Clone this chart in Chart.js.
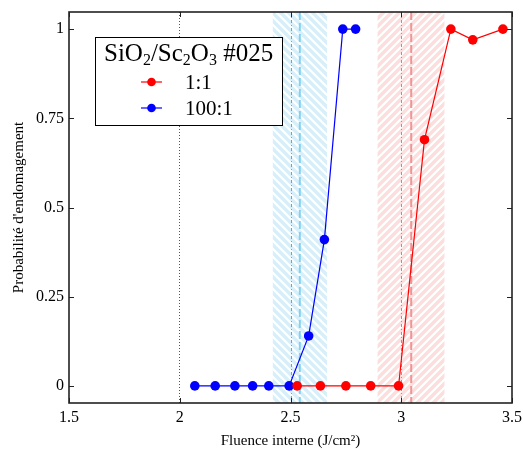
<!DOCTYPE html>
<html>
<head>
<meta charset="utf-8">
<script src="https://cdn.jsdelivr.net/npm/chart.js@4.4.1/dist/chart.umd.min.js"></script>
<style>
  html, body { margin: 0; padding: 0; background: #fff; }
  #wrap { width: 523px; height: 450px; }
</style>
</head>
<body>
<div id="wrap"><canvas id="c"></canvas></div>
<script>
// tick labels
const xTicks = [1.5, 2, 2.5, 3, 3.5];
const yTicks = [0, 0.25, 0.5, 0.75, 1];

// series 1:1 (red)
const fluence11 = [2.53, 2.635, 2.75, 2.862, 2.988, 3.105, 3.224, 3.323, 3.459];
const prob11 = [0, 0, 0, 0, 0, 0.69, 1, 0.97, 1];
// series 100:1 (blue)
const fluence100 = [2.068, 2.16, 2.249, 2.329, 2.402, 2.494, 2.582, 2.653, 2.736, 2.794];
const prob100 = [0, 0, 0, 0, 0, 0, 0.14, 0.41, 1, 1];

// threshold bands (min, max) and mean
const band11 = [2.893, 3.195];
const mean11 = 3.045;
const band100 = [2.42, 2.665];
const mean100 = 2.542;

const serif = '"Liberation Serif", "Times New Roman", serif';

function hatch(base, dir) {
  const p = document.createElement('canvas');
  p.width = 8; p.height = 8;
  const g = p.getContext('2d');
  g.fillStyle = base;
  g.fillRect(0, 0, 8, 8);
  g.strokeStyle = '#fff';
  g.lineWidth = 2.2;
  g.beginPath();
  if (dir > 0) {
    g.moveTo(-2, 10); g.lineTo(10, -2);
    g.moveTo(-2, 2); g.lineTo(2, -2);
    g.moveTo(6, 10); g.lineTo(10, 6);
  } else {
    g.moveTo(-2, -2); g.lineTo(10, 10);
    g.moveTo(-2, 6); g.lineTo(2, 10);
    g.moveTo(6, -2); g.lineTo(10, 2);
  }
  g.stroke();
  return g.createPattern(p, 'repeat');
}

const bandsPlugin = {
  id: 'bands',
  beforeDatasetsDraw(chart) {
    const ctx = chart.ctx, a = chart.chartArea, xs = chart.scales.x;
    const bands = [
      [band100, mean100, hatch('#d8effa', -1), '#80d2f2'],
      [band11, mean11, hatch('#fddede', 1), '#f09494']
    ];
    ctx.save();
    bands.forEach(b => {
      const x0 = xs.getPixelForValue(b[0][0]);
      const x1 = xs.getPixelForValue(b[0][1]);
      ctx.fillStyle = b[2];
      ctx.fillRect(x0, a.top, x1 - x0, a.bottom - a.top);
      const xm = xs.getPixelForValue(b[1]);
      ctx.strokeStyle = b[3];
      ctx.lineWidth = 2;
      ctx.setLineDash([8, 3]);
      ctx.beginPath();
      ctx.moveTo(xm, a.top); ctx.lineTo(xm, a.bottom);
      ctx.stroke();
    });
    // grid lines at 2.5 and 3 drawn over the bands
    ctx.setLineDash([3, 2, 1, 2]);
    ctx.strokeStyle = '#999';
    ctx.lineWidth = 1;
    [2.5, 3].forEach(v => {
      const x = Math.round(xs.getPixelForValue(v)) + 0.5;
      ctx.beginPath();
      ctx.moveTo(x, a.top); ctx.lineTo(x, a.bottom);
      ctx.stroke();
    });
    ctx.restore();
  }
};

const framePlugin = {
  id: 'frame',
  afterDatasetsDraw(chart) {
    const ctx = chart.ctx, a = chart.chartArea, xs = chart.scales.x, ys = chart.scales.y;
    ctx.save();
    ctx.strokeStyle = '#222';
    ctx.lineWidth = 1;
    xTicks.forEach(v => {
      const x = Math.round(xs.getPixelForValue(v)) + 0.5;
      ctx.beginPath();
      ctx.moveTo(x, a.bottom); ctx.lineTo(x, a.bottom - 5);
      ctx.moveTo(x, a.top); ctx.lineTo(x, a.top + 5);
      ctx.stroke();
    });
    yTicks.forEach(v => {
      const y = Math.round(ys.getPixelForValue(v)) + 0.5;
      ctx.beginPath();
      ctx.moveTo(a.left, y); ctx.lineTo(a.left + 5, y);
      ctx.moveTo(a.right, y); ctx.lineTo(a.right - 5, y);
      ctx.stroke();
    });
    ctx.lineWidth = 1.6;
    ctx.strokeRect(a.left, a.top, a.right - a.left, a.bottom - a.top);
    ctx.restore();
  }
};

const legendPlugin = {
  id: 'boxLegend',
  afterDraw(chart) {
    const ctx = chart.ctx, a = chart.chartArea;
    const bx = a.left + 26, by = a.top + 25, bw = 187, bh = 88;
    ctx.save();
    ctx.fillStyle = '#fff';
    ctx.fillRect(bx, by, bw, bh);
    ctx.strokeStyle = '#000';
    ctx.lineWidth = 1;
    ctx.strokeRect(bx + 0.5, by + 0.5, bw, bh);

    // title with subscripts
    const parts = [['SiO', 0], ['2', 1], ['/Sc', 0], ['2', 1], ['O', 0], ['3', 1], [' #025', 0]];
    let tx = bx + 9;
    const base = by + 24;
    ctx.fillStyle = '#000';
    ctx.textBaseline = 'alphabetic';
    parts.forEach(p => {
      ctx.font = p[1] ? '16px ' + serif : '25px ' + serif;
      ctx.fillText(p[0], tx, base + (p[1] ? 4 : 0));
      tx += ctx.measureText(p[0]).width;
    });

    const entries = [['1:1', '#ff0000'], ['100:1', '#0000ff']];
    entries.forEach((e, i) => {
      const y = by + 45 + i * 26;
      ctx.strokeStyle = e[1];
      ctx.lineWidth = 1.2;
      ctx.beginPath();
      ctx.moveTo(bx + 46, y); ctx.lineTo(bx + 67, y);
      ctx.stroke();
      ctx.fillStyle = e[1];
      ctx.beginPath();
      ctx.arc(bx + 56.5, y, 4.3, 0, Math.PI * 2);
      ctx.fill();
      ctx.fillStyle = '#000';
      ctx.font = '21px ' + serif;
      ctx.fillText(e[0], bx + 90, y + 7);
    });
    ctx.restore();
  }
};

const toPts = (xs, ys) => xs.map((x, i) => ({ x: x, y: ys[i] }));

new Chart(document.getElementById('c'), {
  type: 'scatter',
  data: {
    datasets: [
      {
        label: '1:1',
        data: toPts(fluence11, prob11),
        showLine: true,
        borderColor: '#ff0000',
        backgroundColor: '#ff0000',
        borderWidth: 1.2,
        pointRadius: 4.8,
        pointBorderWidth: 0
      },
      {
        label: '100:1',
        data: toPts(fluence100, prob100),
        showLine: true,
        borderColor: '#0000ff',
        backgroundColor: '#0000ff',
        borderWidth: 1.2,
        pointRadius: 4.8,
        pointBorderWidth: 0
      }
    ]
  },
  options: {
    responsive: true,
    maintainAspectRatio: false,
    animation: false,
    layout: { padding: { top: 12, right: 11, left: 10, bottom: 0 } },
    plugins: {
      legend: { display: false },
      tooltip: { enabled: false }
    },
    scales: {
      x: {
        type: 'linear',
        min: 1.5,
        max: 3.5,
        afterBuildTicks: s => { s.ticks = xTicks.map(v => ({ value: v })); },
        afterFit: s => { s.height = 47; s.paddingLeft = 0; s.paddingRight = 0; },
        border: { display: false, dash: [1, 2] },
        grid: {
          drawTicks: false,
          color: c => (c.tick && c.tick.value === 2) ? '#555' : 'rgba(0,0,0,0)',
          lineWidth: 1
        },
        ticks: {
          padding: 5,
          color: '#000',
          font: { family: serif, size: 16 },
          callback: v => String(v)
        },
        title: {
          display: true,
          text: 'Fluence interne (J/cm²)',
          color: '#000',
          font: { family: serif, size: 15 },
          padding: { top: 3, bottom: 0 }
        }
      },
      y: {
        type: 'linear',
        min: -0.048,
        max: 1.048,
        afterBuildTicks: s => { s.ticks = yTicks.map(v => ({ value: v })); },
        afterFit: s => { s.width = 59; s.paddingTop = 0; s.paddingBottom = 0; },
        border: { display: false },
        grid: { display: false, drawTicks: false },
        ticks: {
          padding: 5,
          color: '#000',
          font: { family: serif, size: 16 },
          callback: v => String(v)
        },
        title: {
          display: true,
          text: "Probabilité d'endomagement",
          color: '#000',
          font: { family: serif, size: 15 },
          padding: { top: 0, bottom: 6 }
        }
      }
    }
  },
  plugins: [bandsPlugin, framePlugin, legendPlugin]
});
</script>
</body>
</html>
